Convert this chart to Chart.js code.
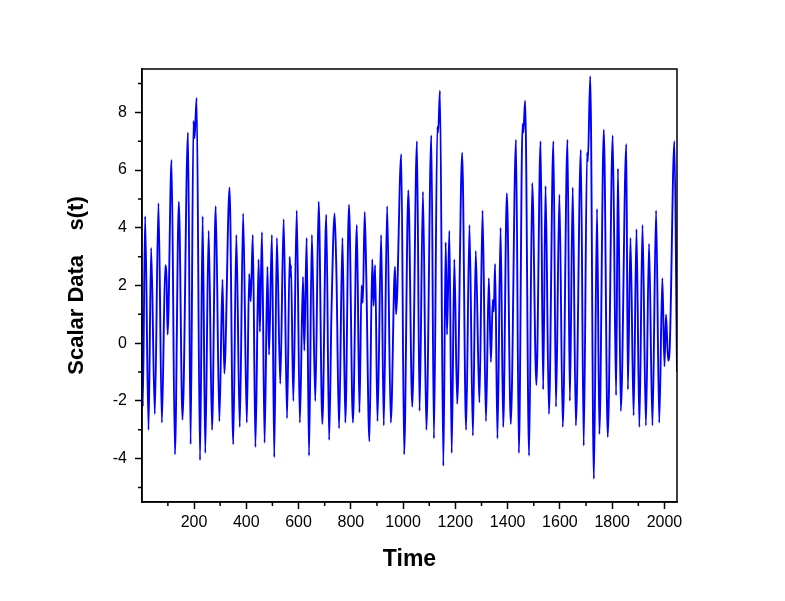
<!DOCTYPE html>
<html>
<head>
<meta charset="utf-8">
<title>Scalar Data s(t)</title>
<script src="https://cdn.jsdelivr.net/npm/chart.js@4.4.1/dist/chart.umd.min.js"></script>
<style>
  html, body { margin: 0; padding: 0; background: #fff; }
</style>
</head>
<body>
<canvas id="signalChart" width="785" height="601"></canvas>
<script>
// time steps and s(t) values (peaks, troughs, shoulders)
const timeSteps = [
  1, 4, 13, 26, 36, 50, 64, 77, 90, 95, 99, 114, 127, 142, 156, 177, 187, 198, 202, 210,
  223, 233, 243, 256, 269, 283, 297, 309, 316, 336, 350, 362, 375, 388, 402, 411, 417, 425, 435, 447,
  452, 460, 470, 481, 487, 498, 507, 517, 530, 543, 556, 566, 569, 571, 580, 593, 605, 617, 622, 631,
  640, 651, 664, 677, 691, 706, 717, 726, 738, 745, 755, 768, 779, 793, 808, 823, 833, 841, 846, 853,
  859, 871, 882, 887, 893, 902, 916, 926, 939, 953, 969, 973, 993, 1004, 1020, 1035, 1053, 1063, 1076, 1089,
  1108, 1118, 1131, 1134, 1141, 1154, 1163, 1168, 1177, 1186, 1196, 1207, 1226, 1241, 1254, 1267, 1278, 1292, 1304, 1317,
  1328, 1336, 1343, 1347, 1352, 1361, 1373, 1383, 1397, 1412, 1432, 1443, 1457, 1460, 1467, 1482, 1494, 1510, 1526, 1536,
  1545, 1558, 1575, 1585, 1598, 1611, 1629, 1638, 1649, 1661, 1680, 1691, 1704, 1707, 1716, 1730, 1742, 1751, 1768, 1783,
  1802, 1815, 1822, 1833, 1854, 1860, 1870, 1882, 1893, 1904, 1916, 1929, 1941, 1954, 1968, 1980, 1992, 2000, 2006, 2014,
  2020, 2038, 2048
];
const scalarValues = [
  1.0, -2.2, 4.4, -3.0, 3.3, -2.45, 4.85, -2.75, 2.7, 2.2, 0.3, 6.35, -3.85, 4.9, -2.65, 7.3, -3.5, 7.7, 7.1, 8.5,
  -4.05, 4.4, -3.8, 3.9, -3.0, 4.75, -2.7, 2.2, -1.05, 5.4, -3.5, 3.75, -2.9, 4.5, -2.75, 2.4, 1.45, 3.75, -3.6, 2.9,
  0.4, 3.85, -3.45, 2.65, -0.4, 3.75, -3.95, 3.65, -1.4, 4.3, -2.6, 3.0, 2.3, 2.7, -2.0, 4.6, -2.75, 2.3, -0.25, 3.65,
  -3.9, 3.75, -2.0, 4.9, -2.8, 4.45, -3.35, 1.1, 4.5, 2.4, -2.95, 3.65, -2.75, 4.8, -2.75, 4.1, -2.4, 2.0, 1.4, 4.55,
  2.4, -3.4, 2.9, 1.3, 2.7, -2.7, 3.75, -2.85, 4.75, -2.75, 2.65, 1.0, 6.55, -3.85, 5.3, -2.2, 7.0, -2.35, 5.25, -3.0,
  7.2, -3.3, 7.5, 7.3, 8.75, -4.25, 3.5, 0.3, 3.9, -3.8, 2.9, -2.1, 6.6, -3.0, 4.1, -3.2, 3.2, -2.05, 4.6, -2.7,
  2.25, -0.65, 1.5, 1.1, 2.75, -3.3, 4.0, -2.9, 5.2, -2.8, 7.05, -3.8, 7.6, 7.3, 8.4, -3.9, 5.55, -1.45, 7.0, -1.6,
  5.45, -2.45, 7.0, -2.2, 5.15, -2.9, 7.05, -2.0, 5.4, -2.85, 6.7, -3.55, 6.6, 6.3, 9.25, -4.7, 4.65, -3.15, 7.4, -3.25,
  7.2, -1.8, 6.05, -2.35, 6.9, -1.6, 3.65, -2.5, 3.95, -2.9, 4.1, -2.85, 3.45, -2.85, 4.6, -2.75, 2.25, -0.8, 1.0, -0.6,
  -0.2, 7.0, -1.0
];

const xTickValues = [200, 400, 600, 800, 1000, 1200, 1400, 1600, 1800, 2000];
const xMinorTicks = [100, 300, 500, 700, 900, 1100, 1300, 1500, 1700, 1900];
const yTickValues = [-4, -2, 0, 2, 4, 6, 8];
const yMinorTicks = [-5, -3, -1, 1, 3, 5, 7, 9];

const fontFamily = '"Liberation Sans", Arial, sans-serif';

// box around the plot + short minor ticks pointing outwards
const frameAndMinorTicks = {
  id: 'frameAndMinorTicks',
  afterDraw(chart) {
    const { ctx, chartArea: a, scales: { x, y } } = chart;
    ctx.save();
    ctx.strokeStyle = '#000';
    ctx.lineWidth = 1.5;
    ctx.strokeRect(a.left, a.top, a.right - a.left, a.bottom - a.top);
    ctx.beginPath();
    xMinorTicks.forEach(v => {
      const px = x.getPixelForValue(v);
      ctx.moveTo(px, a.bottom);
      ctx.lineTo(px, a.bottom + 4);
    });
    yMinorTicks.forEach(v => {
      const py = y.getPixelForValue(v);
      ctx.moveTo(a.left, py);
      ctx.lineTo(a.left - 4, py);
    });
    ctx.stroke();
    ctx.restore();
  }
};

new Chart(document.getElementById('signalChart'), {
  type: 'line',
  data: {
    datasets: [{
      data: timeSteps.map((t, i) => ({ x: t, y: scalarValues[i] })),
      borderColor: '#0000ff',
      borderWidth: 1.9,
      pointRadius: 0,
      cubicInterpolationMode: 'monotone',
      fill: false
    }]
  },
  options: {
    responsive: false,
    animation: false,
    layout: { padding: { left: 55, right: 108, top: 69, bottom: 24 } },
    plugins: { legend: { display: false }, tooltip: { enabled: false } },
    scales: {
      x: {
        type: 'linear',
        min: 1,
        max: 2048,
        afterBuildTicks: s => { s.ticks = xTickValues.map(v => ({ value: v })); },
        afterFit: s => { s.height = 75; },
        grid: { drawOnChartArea: false, drawTicks: true, tickLength: 7, tickWidth: 1.5, tickColor: '#000' },
        border: { color: '#000', width: 1.5 },
        ticks: {
          color: '#000', padding: 4, autoSkip: false, maxRotation: 0,
          font: { family: fontFamily, size: 16 },
          callback: v => String(v)
        },
        title: {
          display: true, text: 'Time', color: '#000',
          font: { family: fontFamily, size: 23, weight: 'bold' },
          padding: { top: 0, bottom: 4 }
        }
      },
      y: {
        min: -5.5,
        max: 9.5,
        afterBuildTicks: s => { s.ticks = yTickValues.map(v => ({ value: v })); },
        afterFit: s => { s.width = 87; },
        grid: { drawOnChartArea: false, drawTicks: true, tickLength: 7, tickWidth: 1.5, tickColor: '#000' },
        border: { color: '#000', width: 1.5 },
        ticks: {
          color: '#000', padding: 8,
          font: { family: fontFamily, size: 16 },
          callback: v => String(v)
        },
        title: {
          display: true, text: 'Scalar Data    s(t)', color: '#000',
          font: { family: fontFamily, size: 22, weight: 'bold' },
          padding: { top: 9, bottom: 0 }
        }
      }
    }
  },
  plugins: [frameAndMinorTicks]
});
</script>
</body>
</html>
